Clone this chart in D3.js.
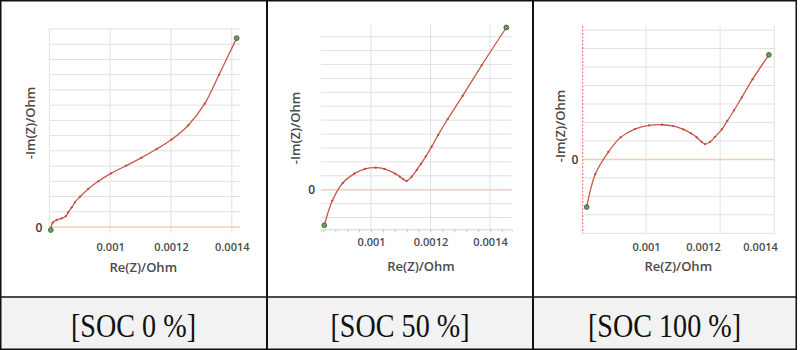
<!DOCTYPE html>
<html>
<head>
<meta charset="utf-8">
<script src="https://cdn.jsdelivr.net/npm/d3@7"></script>
<style>
  html, body { margin: 0; padding: 0; background: #fff; }
  svg { display: block; }
</style>
</head>
<body>
<div id="chart"></div>
<script>

// Nyquist data, Re(Z) and -Im(Z) in Ohm
const soc0Re = [0.000805, 0.000811, 0.000824, 0.000841, 0.000855, 0.000862, 0.000874, 0.000884, 0.000901, 0.000928, 0.000961, 0.001003, 0.001052, 0.001102, 0.001153, 0.001202, 0.001257, 0.001311, 0.001358, 0.001416];
const soc0Im = [-0.00001, 0.000014, 0.000023, 0.0000285, 0.000036, 0.000048, 0.0000646, 0.000081, 0.0000995, 0.000125, 0.00015, 0.000176, 0.000201, 0.000227, 0.000256, 0.000287, 0.000334, 0.000405, 0.0005, 0.00062];

const soc50Re = [0.000843, 0.00087, 0.000905, 0.000944, 0.00098, 0.001016, 0.001045, 0.001081, 0.001097, 0.001109, 0.00112, 0.001137, 0.001154, 0.001168, 0.001184, 0.001204, 0.001226, 0.001258, 0.001308, 0.001372, 0.001455];
const soc50Im = [-0.000128, -0.00004, 0.000024, 0.0000576, 0.0000745, 0.0000791, 0.0000745, 0.0000576, 0.0000468, 0.0000374, 0.0000313, 0.0000468, 0.0000709, 0.0000924, 0.000119, 0.000155, 0.000197, 0.000254, 0.000337, 0.000447, 0.000583];

const soc100Re = [0.000792, 0.000822, 0.000868, 0.000911, 0.000961, 0.001011, 0.001057, 0.001096, 0.001131, 0.001158, 0.001178, 0.001195, 0.001207, 0.001225, 0.001242, 0.001266, 0.001285, 0.001309, 0.001336, 0.001374, 0.001431];
const soc100Im = [-0.000129, -0.00004, 0.00002, 0.0000596, 0.000082, 0.000092, 0.0000937, 0.0000901, 0.0000812, 0.0000704, 0.0000596, 0.0000476, 0.0000414, 0.0000476, 0.0000612, 0.0000812, 0.000104, 0.000133, 0.000168, 0.000217, 0.000283];

const xTickValues = [0.001, 0.0012, 0.0014];
const xTickLabels = ["0.001", "0.0012", "0.0014"];
const yTickValues = [0];
const yTickLabels = ["0"];
const captions = ["[SOC 0 %]", "[SOC 50 %]", "[SOC 100 %]"];
const xTitle = "Re(Z)/Ohm";
const yTitle = "-Im(Z)/Ohm";
const gridStep = 0.00005;

const panels = [
    { re: soc0Re, im: soc0Im, cell: [0, 267],
      left: 49.3, right: 240, top: 29, bottom: 233, gridTop: 28.5,
      xDomain: [0.0008, 0.001427], yDomain: [-0.0000197, 0.00065],
      xGrid: [0.0008, 0.001, 0.0012, 0.0014], yGridMin: 0.00005, yGridMax: 0.00065,
      zeroX: 39, tickY: 247, titleX: 143.3, titleY: 267, yTitleX: 30, yTitleY: 123 },
    { re: soc50Re, im: soc50Im, cell: [267, 533],
      left: 321, right: 511.7, top: 25, bottom: 229.3, gridTop: 25,
      xDomain: [0.000832, 0.001473], yDomain: [-0.0001424, 0.000592],
      xGrid: [0.001, 0.0012, 0.0014], yGridMin: -0.0001, yGridMax: 0.00055,
      minorTicks: true,
      zeroX: 311.7, tickY: 241.7, titleX: 421, titleY: 266.7, yTitleX: 295, yTitleY: 128 },
    { re: soc100Re, im: soc100Im, cell: [533, 796],
      left: 582.7, right: 774.3, top: 26, bottom: 233.3, gridTop: 26,
      xDomain: [0.000778, 0.00145], yDomain: [-0.0002, 0.000361],
      xGrid: [0.001, 0.00126, 0.00145], yGridMin: -0.0002, yGridMax: 0.00035,
      redAxis: true,
      zeroX: 575, tickY: 247.3, titleX: 678.3, titleY: 266.7, yTitleX: 560, yTitleY: 126 }
];

const svg = d3.select("#chart").append("svg")
    .attr("width", 800)
    .attr("height", 350);

svg.append("rect")
    .attr("width", 800).attr("height", 350)
    .attr("fill", "#fff");

// caption row
svg.append("rect")
    .attr("x", 1).attr("y", 297)
    .attr("width", 795).attr("height", 52)
    .attr("fill", "#f2f2f2");

const fontUi = "'Open Sans', 'Noto Sans', sans-serif";

panels.forEach( (p, i) => {

    const x = d3.scaleLinear().domain( p.xDomain ).range( [p.left, p.right] );
    const y = d3.scaleLinear().domain( p.yDomain ).range( [p.bottom, p.top] );

    const g = svg.append("g").attr("class", `panel-${i}`);

    const yGrid = d3.range( Math.round(p.yGridMin / gridStep), Math.round(p.yGridMax / gridStep) + 1 )
        .map( k => k * gridStep )
        .filter( v => Math.abs(v) > 1e-12 );

    g.selectAll(".hgrid")
        .data( yGrid )
        .enter().append("line")
        .attr("class", "hgrid")
        .attr("x1", p.left).attr("x2", p.right)
        .attr("y1", d => y(d)).attr("y2", d => y(d))
        .attr("stroke", "#e1e1e1")
        .attr("stroke-width", 1);

    g.selectAll(".vgrid")
        .data( p.xGrid )
        .enter().append("line")
        .attr("class", "vgrid")
        .attr("x1", d => x(d)).attr("x2", d => x(d))
        .attr("y1", p.gridTop).attr("y2", p.bottom)
        .attr("stroke", "#e1e1e1")
        .attr("stroke-width", 1);

    if ( p.redAxis ) {
        g.append("line")
            .attr("x1", x(p.xDomain[0])).attr("x2", x(p.xDomain[0]))
            .attr("y1", p.gridTop).attr("y2", p.bottom)
            .attr("stroke", "#e0685c")
            .attr("stroke-width", 1)
            .attr("stroke-dasharray", "2,1.5");
    }

    if ( p.minorTicks ) {
        const minor = d3.range( 21, 37 ).map( k => k * 0.00004 );
        const minorAxis = g.append("g")
            .attr("transform", `translate(0,${p.bottom})`)
            .call( d3.axisBottom( x ).tickValues( minor ).tickSize( 3 ).tickFormat("") );
        minorAxis.select(".domain").attr("stroke", "#d0d0d0");
        minorAxis.selectAll(".tick line").attr("stroke", "#c8c8c8");
    }

    // zero line
    g.append("line")
        .attr("x1", p.left).attr("x2", p.right)
        .attr("y1", y(0)).attr("y2", y(0))
        .attr("stroke", "#f6cfa3")
        .attr("stroke-width", 1.5);

    // x tick labels
    const xAxis = g.append("g")
        .attr("transform", `translate(0,${p.tickY})`)
        .call( d3.axisBottom( x ).tickValues( xTickValues ).tickSize( 0 ).tickPadding( 0 )
            .tickFormat( (d, k) => xTickLabels[k] ) );
    xAxis.select(".domain").remove();
    xAxis.selectAll("text")
        .attr("dy", "0.35em")
        .attr("fill", "#4a4a4a")
        .style("font-family", fontUi)
        .style("font-size", "11px")
        .style("font-weight", 600);

    // y zero label
    const yAxis = g.append("g")
        .attr("transform", `translate(${p.zeroX},0)`)
        .call( d3.axisLeft( y ).tickValues( yTickValues ).tickSize( 0 ).tickPadding( 0 )
            .tickFormat( (d, k) => yTickLabels[k] ) );
    yAxis.select(".domain").remove();
    yAxis.selectAll("text")
        .attr("x", 0)
        .attr("text-anchor", "middle")
        .attr("dy", "0.35em")
        .attr("fill", "#3a3a3a")
        .style("font-family", fontUi)
        .style("font-size", "12px")
        .style("font-weight", 600);

    g.append("text")
        .attr("x", p.titleX).attr("y", p.titleY)
        .attr("dy", "0.35em")
        .attr("text-anchor", "middle")
        .attr("fill", "#4a4a4a")
        .style("font-family", fontUi)
        .style("font-size", "13px")
        .style("font-weight", 600)
        .text( xTitle );

    g.append("text")
        .attr("transform", `translate(${p.yTitleX},${p.yTitleY}) rotate(-90)`)
        .attr("dy", "0.35em")
        .attr("text-anchor", "middle")
        .attr("fill", "#4a4a4a")
        .style("font-family", fontUi)
        .style("font-size", "13px")
        .style("font-weight", 600)
        .text( yTitle );

    const pts = p.re.map( (r, k) => ( { re: r, im: p.im[k] } ) );

    const line = d3.line()
        .x( d => x(d.re) )
        .y( d => y(d.im) )
        .curve( d3.curveCatmullRom.alpha(0.5) );

    g.append("path")
        .datum( pts )
        .attr("d", line)
        .attr("fill", "none")
        .attr("stroke", "#c9574a")
        .attr("stroke-width", 1.3);

    g.selectAll(".marker")
        .data( pts.slice(1, -1) )
        .enter().append("circle")
        .attr("class", "marker")
        .attr("cx", d => x(d.re))
        .attr("cy", d => y(d.im))
        .attr("r", 1.15)
        .attr("fill", "#c04a44");

    g.selectAll(".endpoint")
        .data( [pts[0], pts[pts.length - 1]] )
        .enter().append("circle")
        .attr("class", "endpoint")
        .attr("cx", d => x(d.re))
        .attr("cy", d => y(d.im))
        .attr("r", 2.4)
        .attr("fill", "#6f9a62")
        .attr("stroke", "#2f5530")
        .attr("stroke-width", 0.8);

    const cx = (p.cell[0] + p.cell[1]) / 2;
    svg.append("text")
        .attr("transform", `translate(${cx},325) scale(0.97,1.16)`)
        .attr("dy", "0.35em")
        .attr("text-anchor", "middle")
        .attr("fill", "#111")
        .style("font-family", "'Liberation Serif', 'Times New Roman', serif")
        .style("font-size", "29px")
        .text( captions[i] );
});

// table lines
svg.append("rect")
    .attr("x", 0.75).attr("y", 0.75)
    .attr("width", 795.5).attr("height", 348.5)
    .attr("fill", "none")
    .attr("stroke", "#111")
    .attr("stroke-width", 1.5);

svg.selectAll(".divider")
    .data( [267, 533] )
    .enter().append("line")
    .attr("class", "divider")
    .attr("x1", d => d).attr("x2", d => d)
    .attr("y1", 0).attr("y2", 350)
    .attr("stroke", "#111")
    .attr("stroke-width", 2);

svg.append("line")
    .attr("x1", 0).attr("x2", 797)
    .attr("y1", 297).attr("y2", 297)
    .attr("stroke", "#111")
    .attr("stroke-width", 1.5);

</script>
</body>
</html>
